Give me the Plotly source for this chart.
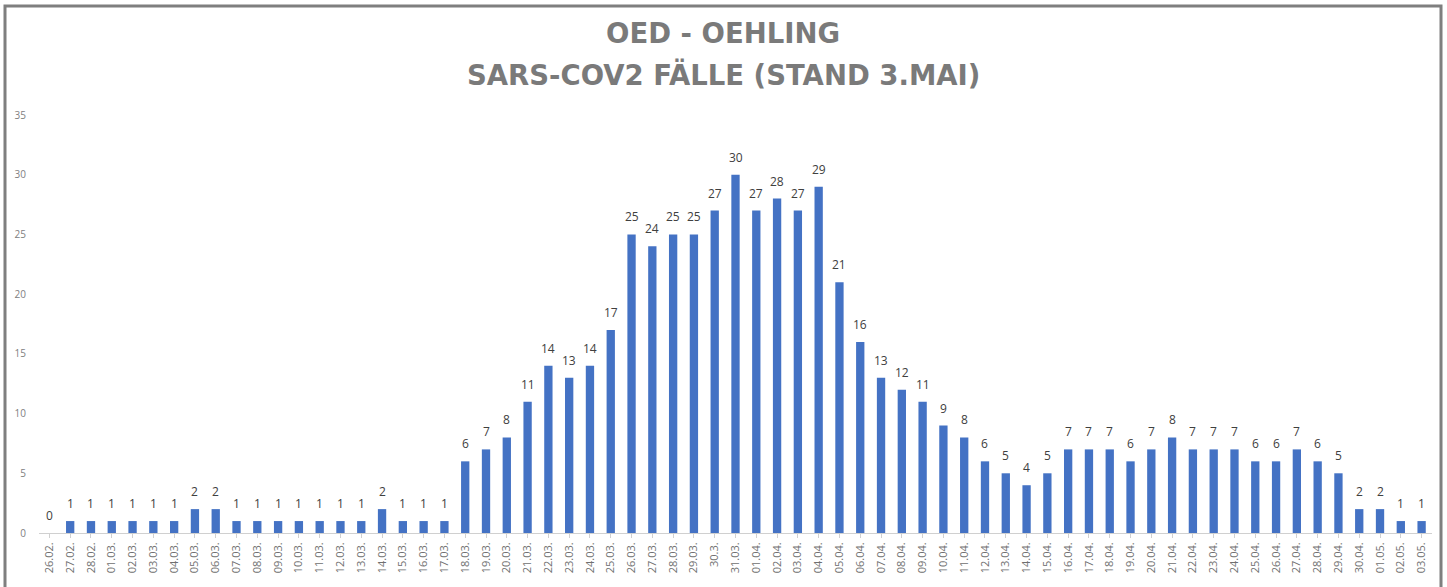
import plotly.graph_objects as go

dates = ["26.02.", "27.02.", "28.02.",
         "01.03.", "02.03.", "03.03.", "04.03.", "05.03.", "06.03.", "07.03.", "08.03.", "09.03.", "10.03.",
         "11.03.", "12.03.", "13.03.", "14.03.", "15.03.", "16.03.", "17.03.", "18.03.", "19.03.", "20.03.",
         "21.03.", "22.03.", "23.03.", "24.03.", "25.03.", "26.03.", "27.03.", "28.03.", "29.03.", "30.3.",
         "31.03.", "01.04.", "02.04.", "03.04.", "04.04.", "05.04.", "06.04.", "07.04.", "08.04.", "09.04.",
         "10.04.", "11.04.", "12.04.", "13.04.", "14.04.", "15.04.", "16.04.", "17.04.", "18.04.", "19.04.",
         "20.04.", "21.04.", "22.04.", "23.04.", "24.04.", "25.04.", "26.04.", "27.04.", "28.04.", "29.04.",
         "30.04.", "01.05.", "02.05.", "03.05."]

cases = [0, 1, 1,
         1, 1, 1, 1, 2, 2, 1, 1, 1, 1,
         1, 1, 1, 2, 1, 1, 1, 6, 7, 8,
         11, 14, 13, 14, 17, 25, 24, 25, 25, 27,
         30, 27, 28, 27, 29, 21, 16, 13, 12, 11,
         9, 8, 6, 5, 4, 5, 7, 7, 7, 6,
         7, 8, 7, 7, 7, 6, 6, 7, 6, 5,
         2, 2, 1, 1]

title_lines = ["OED - OEHLING", "SARS-COV2 FÄLLE (STAND 3.MAI)"]
y_ticks = [0, 5, 10, 15, 20, 25, 30, 35]

W, H = 1447, 587
ML, MR, MT, MB = 39, 15, 115, 54
pw, ph = W - ML - MR, H - MT - MB

fig = go.Figure(go.Bar(
    x=dates, y=cases,
    marker=dict(color="#4472C4", line=dict(width=0)),
    width=0.4,
    hoverinfo="x+y",
))

annotations = []
for d, v in zip(dates, cases):
    annotations.append(dict(x=d, y=v, xref="x", yref="y", text=str(v), showarrow=False,
                            yanchor="bottom", yshift=7,
                            font=dict(family="Open Sans", size=12, color="#404040")))

title_y = [33, 74]
for line, ty in zip(title_lines, title_y):
    annotations.append(dict(x=(723 - ML) / pw, xref="paper", y=(H - MB - ty) / ph, yref="paper",
                            text=line, showarrow=False, xanchor="center", yanchor="middle",
                            font=dict(family="DejaVu Sans", size=27.5, color="#7a7a7a", weight="bold")))

fig.update_layout(
    width=W, height=H,
    margin=dict(l=ML, r=MR, t=MT, b=MB),
    paper_bgcolor="white", plot_bgcolor="white",
    showlegend=False,
    xaxis=dict(type="category", tickangle=-90, showgrid=False, showline=True, linecolor="#d0d0d0",
               linewidth=1, ticks="outside", ticklen=4, tickcolor="#d0d0d0",
               tickfont=dict(family="Open Sans", size=11, color="#707070"),
               range=[-0.5, len(dates) - 0.5]),
    yaxis=dict(range=[0, 35], tickvals=y_ticks, showgrid=False, zeroline=False, showline=False,
               tickfont=dict(family="Open Sans", size=10, color="#808080"), ticklabelstandoff=12),
    annotations=annotations,
    shapes=[dict(type="rect", xref="paper", yref="paper",
                 x0=(5 - ML) / pw, x1=(1441 - ML) / pw,
                 y0=(H - MB - 620) / ph, y1=(H - MB - 6) / ph,
                 line=dict(color="#7f7f7f", width=3), fillcolor="rgba(0,0,0,0)")],
)

fig.write_html("out.html", config={"displayModeBar": False},
               post_script="document.body.style.margin='0';document.body.style.overflow='hidden';")
